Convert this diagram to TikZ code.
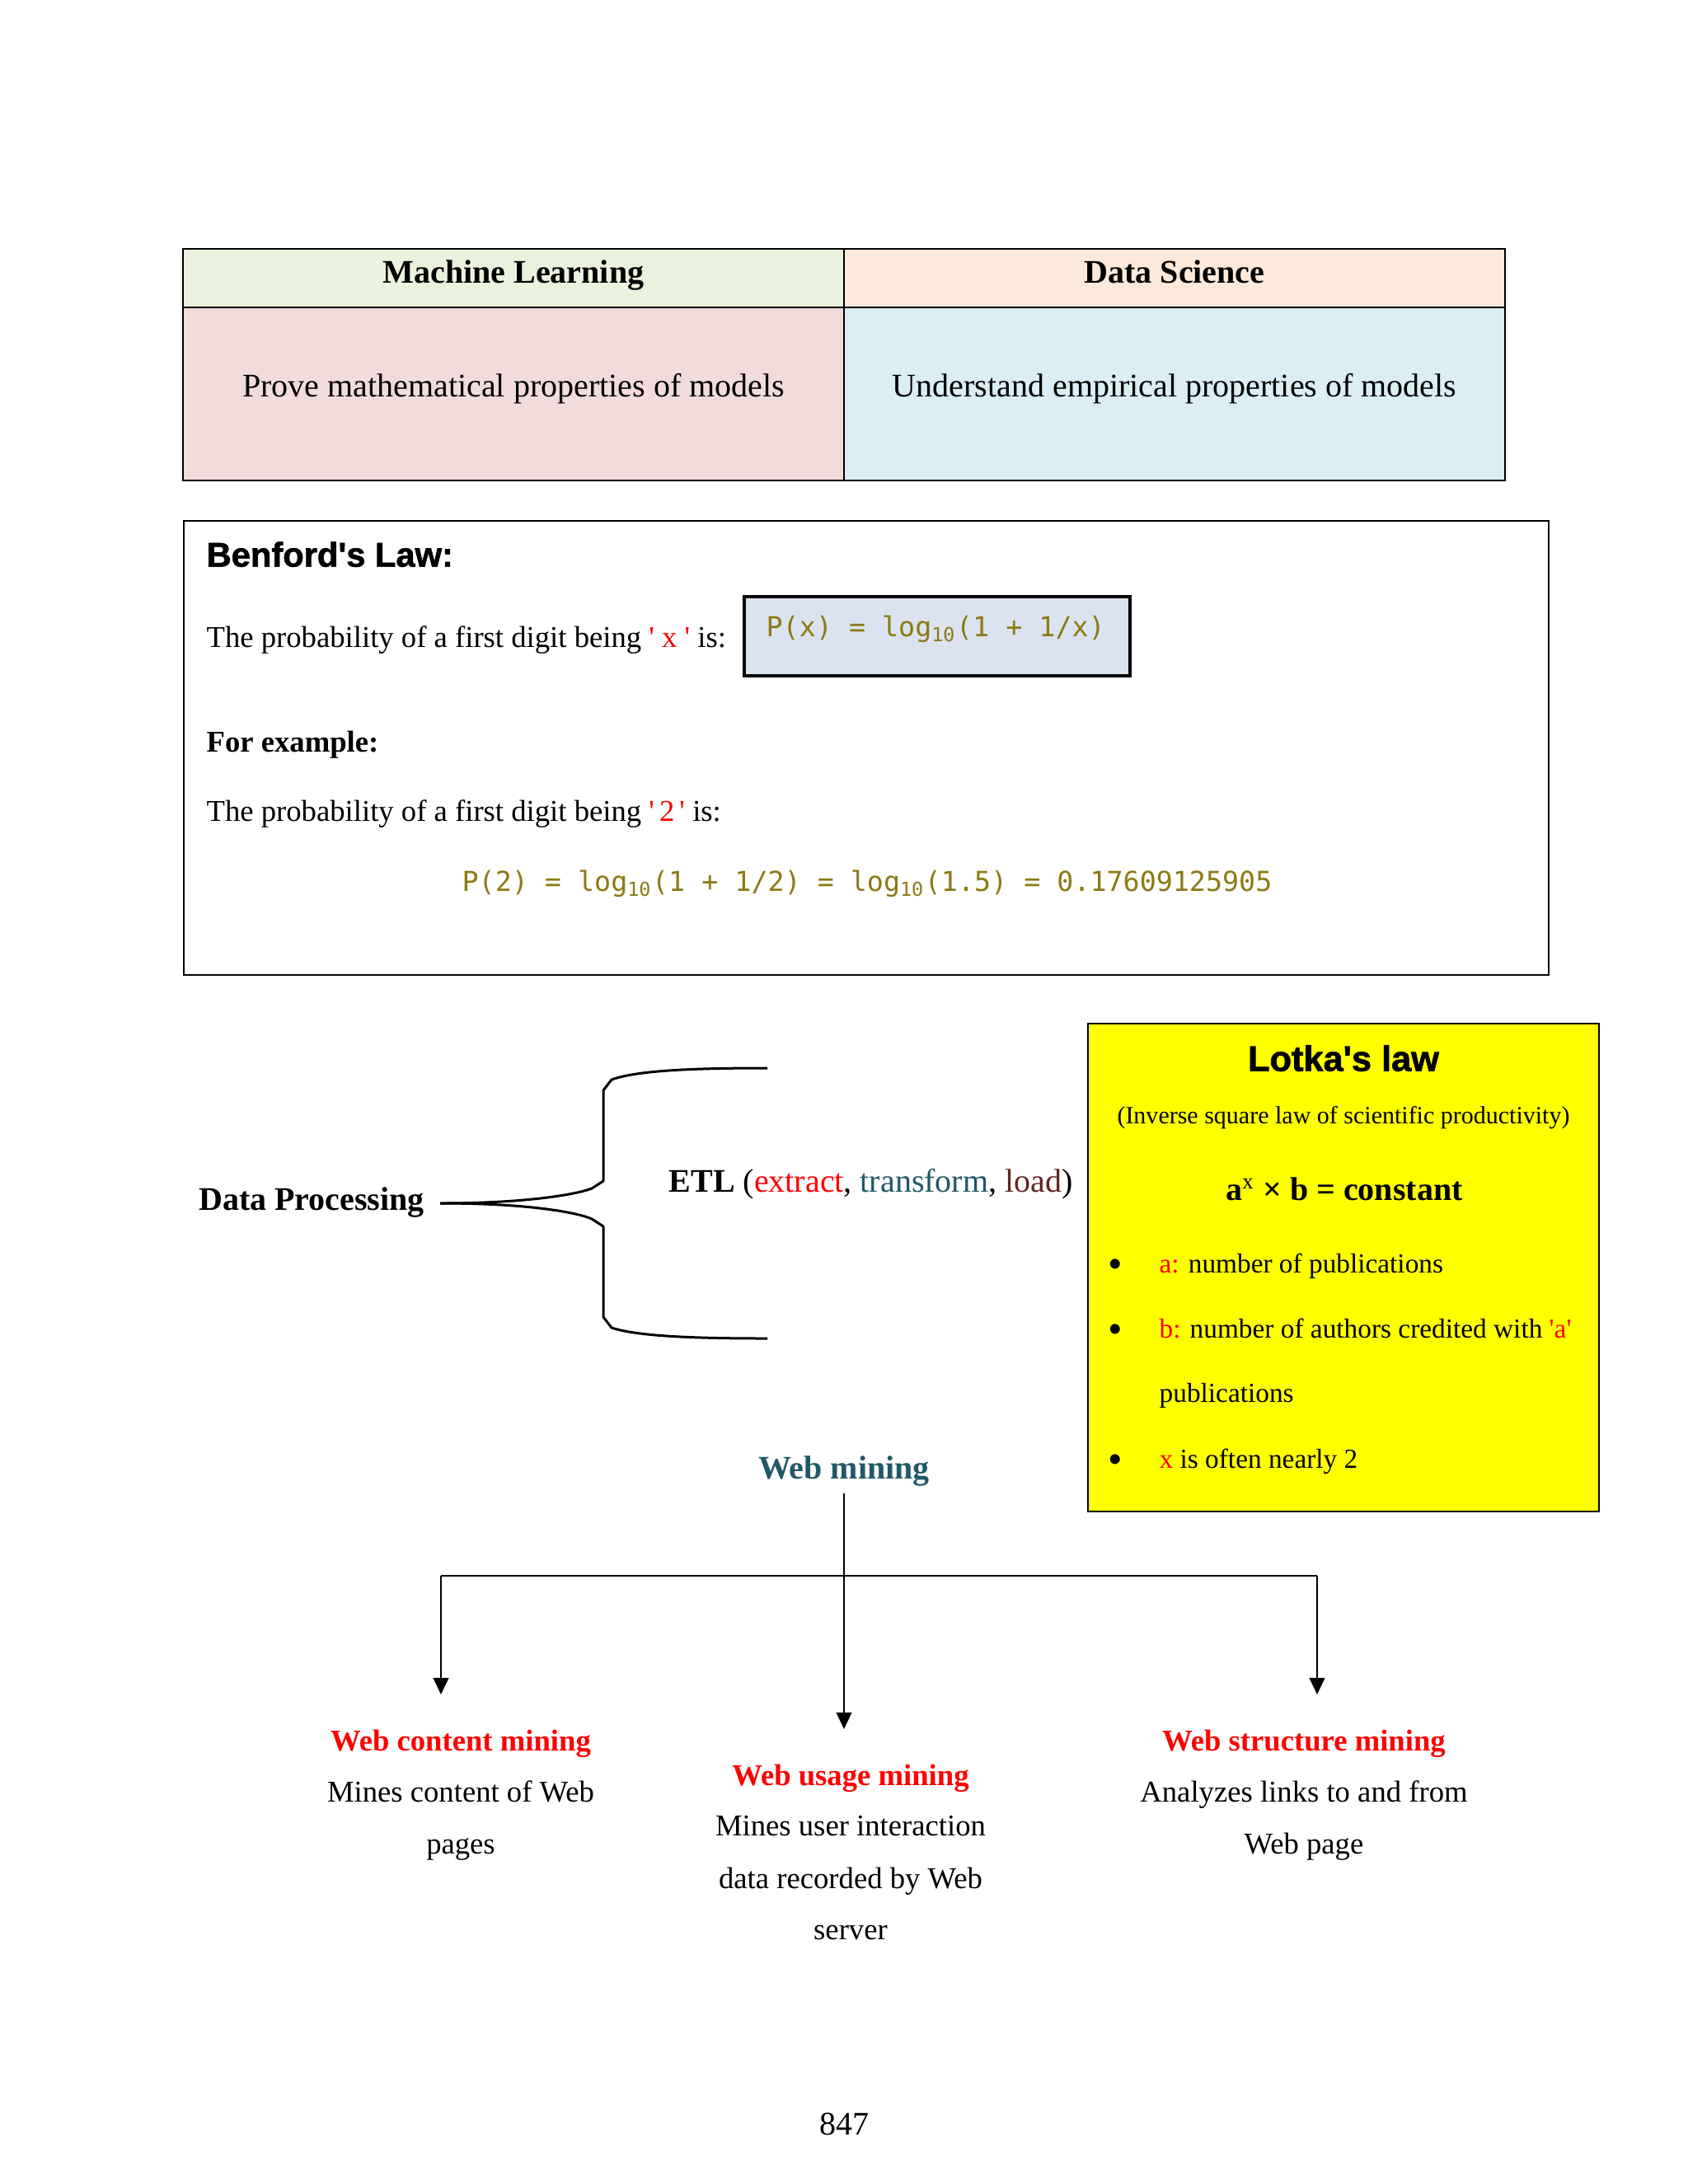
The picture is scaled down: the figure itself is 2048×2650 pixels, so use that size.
\documentclass[tikz,border=0pt]{standalone}
\usepackage{fontspec}
\setmainfont{Liberation Serif}
\setsansfont{Liberation Sans}
\setmonofont{DejaVu Sans Mono}
\newfontfamily\lawfont{Liberation Sans}[FakeBold=1.5]
\usetikzlibrary{positioning, arrows.meta}
\definecolor{mlgreen}{HTML}{EAF1DD}
\definecolor{dsorange}{HTML}{FDE9D9}
\definecolor{mlpink}{HTML}{F2DBDB}
\definecolor{dsblue}{HTML}{DAEEF3}
\definecolor{formblue}{HTML}{DCE3F0}
\definecolor{codeolive}{RGB}{140,122,20}
\definecolor{etlteal}{HTML}{215868}
\definecolor{etlmaroon}{HTML}{632423}
\definecolor{lawyellow}{HTML}{FFFF00}
\newcommand{\apos}{\textquotesingle}

\begin{document}
\begin{tikzpicture}[
    x=0.010542cm, y=-0.010542cm,
    txt/.style={inner sep=0pt, text height=1.5ex, text depth=.25ex, yshift=-1.2pt,
                font=\fontsize{12}{14}\selectfont},
    head/.style={txt, font=\fontsize{12}{14}\selectfont\bfseries},
    small/.style={txt, font=\fontsize{11}{13}\selectfont},
    subhead/.style={txt, font=\fontsize{11}{13}\selectfont\bfseries},
    smallhead/.style={subhead, text=red},
    code/.style={txt, font=\fontsize{10}{12}\selectfont\ttfamily, text=codeolive},
    law/.style={txt, font=\fontsize{12.5}{14}\selectfont\lawfont\bfseries},
    point/.style={txt, anchor=west, font=\fontsize{10}{12}\selectfont},
    dot/.style={txt, font=\fontsize{15}{16}\selectfont},
    frame/.style={draw=black, line width=0.8pt},
    brace/.style={line width=0.9pt, line join=round},
    arrow/.style={-{Triangle[width=5.6pt,length=6pt]}, line width=0.6pt, shorten >=13.5pt}
  ]
    \fill[white] (0,0) rectangle (2048,2650);
    \useasboundingbox (0,0) rectangle (2048,2650);

    \fill[mlgreen]  (222,302) rectangle (1024,373);
    \fill[dsorange] (1024,302) rectangle (1826,373);
    \fill[mlpink]   (222,373) rectangle (1024,583);
    \fill[dsblue]   (1024,373) rectangle (1826,583);
    \draw[frame] (222,302) rectangle (1826,583);
    \draw[line width=0.6pt] (222,373) -- (1826,373) (1024,302) -- (1024,583);

    \node[head] (mlhead) at (623,330) {Machine Learning};
    \node[head] (dshead) at (1425,330) {Data Science};
    \node[txt]  (mlbody) at (623,468) {Prove mathematical properties of models};
    \node[txt]  (dsbody) at (1425,468) {Understand empirical properties of models};

    \draw[frame] (223,632) rectangle (1879,1183);
    \node[law, anchor=west] (benford) at (250,674) {Benford\apos s Law:};
    \node[small, anchor=west] (probx) at (250,772)
        {The probability of a first digit being {\color{red}\apos{} x \apos} is:};
    \filldraw[draw=black, line width=1pt, fill=formblue] (903,724) rectangle (1371,820);
    \node[code, anchor=west] (pxlaw) at (929,759) {P(x) = log\textsubscript{10}(1 + 1/x)};
    \node[subhead, anchor=west] (forex) at (250,899) {For example:};
    \node[small, anchor=west] (prob2) at (250,983)
        {The probability of a first digit being {\color{red}\apos\,2\,\apos} is:};
    \node[code] (ptwo) at (1052,1068)
        {P(2) = log\textsubscript{10}(1 + 1/2) = log\textsubscript{10}(1.5) = 0.17609125905};

    \node[head] (dp) at (378,1455) {Data Processing};
    \coordinate (tip) at (534,1460);
    \draw[brace] (tip) .. controls (640,1460) and (700,1449) .. (718,1442) -- (732,1433)
        -- (732,1323) -- (742,1310) .. controls (775,1298) and (850,1296) .. (931,1296);
    \draw[brace] (tip) .. controls (640,1460) and (700,1471) .. (718,1479) -- (732,1488)
        -- (732,1598) -- (742,1611) .. controls (775,1622) and (850,1624) .. (931,1624);
    \node[txt, anchor=west] (etl) at (811,1433)
        {\textbf{ETL} ({\color{red}extract}, {\color{etlteal}transform}, {\color{etlmaroon}load})};

    \filldraw[frame, fill=lawyellow] (1320,1242) rectangle (1940,1834);
    \node[law, font=\fontsize{13}{15}\selectfont\lawfont\bfseries] (lotka) at (1630,1286) {Lotka\apos s law};
    \node[txt, font=\fontsize{9}{11}\selectfont] (inverse) at (1630,1350)
        {(Inverse square law of scientific productivity)};
    \node[head] (lotkaeq) at (1631,1443) {a\textsuperscript{\mdseries x} × b = constant};
    \node[dot] (bula) at (1353,1537) {\textbullet};
    \node[dot] (bulb) at (1353,1616) {\textbullet};
    \node[dot] (bulx) at (1353,1774) {\textbullet};
    \node[point] (itema)  at (1406,1531) {{\color{red}a:} number of publications};
    \node[point] (itemb)  at (1406,1610) {{\color{red}b:} number of authors credited with {\color{red}\apos a\apos}};
    \node[point] (itemb2) at (1406,1688) {publications};
    \node[point] (itemx)  at (1406,1768) {{\color{red}x} is often nearly 2};

    \node[head, text=etlteal] (wm) at (1024,1781) {Web mining};
    \coordinate (jl) at (535,1912);
    \coordinate (jr) at (1598,1912);
    \node[smallhead] (content)  at (559,2111)  {Web content mining};
    \node[small]     (content1) at (559,2173)  {Mines content of Web};
    \node[small]     (content2) at (559,2236)  {pages};
    \node[smallhead] (usage)    at (1032,2153) {Web usage mining};
    \node[small]     (usage1)   at (1032,2214) {Mines user interaction};
    \node[small]     (usage2)   at (1032,2278) {data recorded by Web};
    \node[small]     (usage3)   at (1032,2340) {server};
    \node[smallhead] (struct)   at (1582,2111) {Web structure mining};
    \node[small]     (struct1)  at (1582,2173) {Analyzes links to and from};
    \node[small]     (struct2)  at (1582,2236) {Web page};

    \draw[line width=0.6pt] (jl) -- (jr);
    \draw[arrow, shorten <=3.8pt] (wm.south) -- (wm.south |- usage.north);
    \draw[arrow] (jl) -- (jl |- content.north);
    \draw[arrow] (jr) -- (jr |- struct.north);

    \node[txt] (pagenum) at (1024,2577) {847};
  \end{tikzpicture}
\end{document}
